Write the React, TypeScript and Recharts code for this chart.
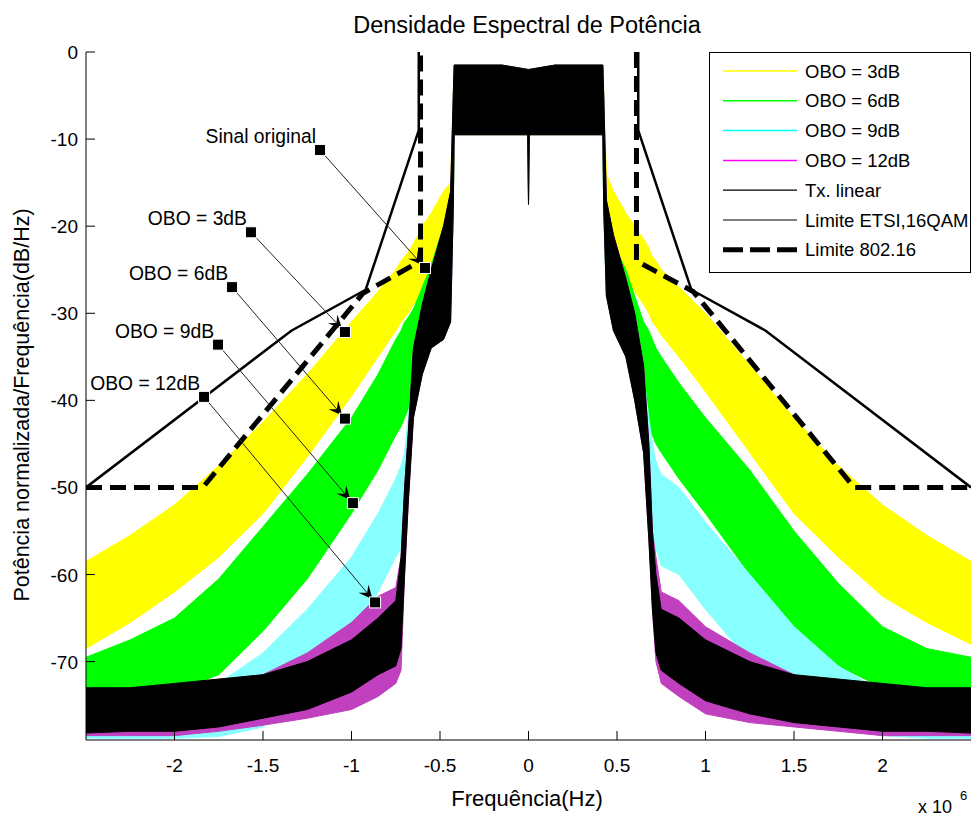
import React from 'react';
import { ComposedChart, Area, Line, XAxis, YAxis, ReferenceLine, Legend, Label } from 'recharts';

// ---------- data (frequency in MHz, PSD in dB) ----------
const FREQ_MHZ = [
  -2.5, -2.25, -2.0, -1.75, -1.5, -1.25, -1.0, -0.85, -0.75, -0.72, -0.7, -0.68, -0.65, -0.6, -0.55, -0.48, -0.44, -0.425,
  -0.42, -0.3, -0.15, -0.005, 0, 0.005, 0.15, 0.3, 0.42,
  0.425, 0.44, 0.48, 0.55, 0.6, 0.65, 0.68, 0.7, 0.72, 0.75, 0.85, 1.0, 1.25, 1.5, 1.75, 2.0, 2.25, 2.5,
];

const INBAND_HI = [-1.5, -1.5, -1.5, -2, -2, -2, -1.5, -1.5, -1.5];
const INBAND_LO = [-9.5, -9.5, -9.5, -9.5, -17.5, -9.5, -9.5, -9.5, -9.5];

const OBO3_HI = [
  -58.5, -55.5, -52, -47.5, -42.5, -37, -31, -27.5, -25, -24, -23.5, -23, -22, -20, -18.5, -16, -15, -5,
  ...INBAND_HI,
  -5, -14, -16, -18.5, -20, -21.5, -22.5, -23.5, -24, -25, -27, -30, -36, -42, -47.5, -52, -55.5, -58.5,
];
const OBO3_LO = [
  -68.5, -65.5, -62, -58, -53, -46.5, -39.5, -35, -32, -31, -30.5, -30, -29, -27.5, -26, -24, -22, -18,
  ...INBAND_LO,
  -18, -22, -24, -26, -27.5, -29, -30, -31, -31.5, -32.5, -35, -39, -46, -53, -58, -62.5, -65.5, -68,
];
const OBO6_HI = [
  -69.5, -67.5, -65, -60.5, -54.5, -48.5, -42, -37, -33, -32, -31, -30.5, -29.5, -27, -24.5, -20, -18, -5,
  ...INBAND_HI,
  -5, -19, -22, -25, -28, -31, -32, -33, -34, -35, -38, -42, -48, -55, -61, -66, -68.5, -69.5,
];
const OBO6_LO = [
  -75, -74.5, -73.5, -71.5, -66.5, -60.5, -53, -48, -44, -43, -42, -41, -40, -37, -34, -31, -29, -18,
  ...INBAND_LO,
  -18, -28, -31, -34, -38, -41, -43, -44, -45, -46, -49, -53, -60, -66, -70.5, -73, -74.5, -75,
];
const OBO9_HI = [
  -75.5, -75, -74.5, -72.5, -69, -64, -58, -53, -49, -47.5, -46, -42, -36, -30, -26, -21, -17, -5,
  ...INBAND_HI,
  -5, -18, -22, -27, -31, -37, -42, -45, -47, -48.5, -50, -54, -60, -66, -70.5, -73.5, -75, -75.5,
];
const OBO9_LO = [
  -78.8, -78.8, -78.8, -78.6, -77.5, -73, -67, -62, -58, -57, -55, -51, -42, -37, -34, -33, -31, -18,
  ...INBAND_LO,
  -18, -28, -32, -35, -40, -46, -52, -55, -57, -59, -60, -64, -70, -74.5, -77, -78.5, -78.8, -78.8,
];
const OBO12_HI = [
  -73.5, -73, -73, -72.5, -71.5, -69, -65.5, -62.5, -61.5, -58, -50, -44, -34, -29, -25, -20, -16, -5,
  ...INBAND_HI,
  -5, -17, -21, -26, -30, -36, -45, -55, -58, -62, -63, -66, -69, -71.5, -72.5, -73, -73.5, -73.5,
];
const OBO12_LO = [
  -78.5, -78.5, -78.5, -78, -77.3, -76.5, -75.5, -74, -72.5, -71, -60, -52, -42, -37, -34, -33, -31, -18,
  ...INBAND_LO,
  -18, -28, -32, -35, -40, -46, -56, -64, -70, -72.5, -74, -76, -77, -77.5, -78, -78.5, -78.5, -78.5,
];
const TX_HI = [
  -73, -73, -72.5, -72, -71.5, -70, -67.5, -65, -63, -58, -50, -44, -34, -29, -25, -20, -16, -5,
  ...INBAND_HI,
  -5, -17, -21, -26, -30, -36, -45, -55, -60, -64, -65, -67.5, -70, -71.5, -72, -72.5, -73, -73,
];
const TX_LO = [
  -78.2, -78, -78, -77.5, -76.5, -75.5, -73.5, -71.5, -70.5, -68.5, -60, -52, -42, -37, -34, -33, -31, -18,
  ...INBAND_LO,
  -18, -28, -32, -35, -40, -46, -56, -64, -69, -71, -72.5, -74.5, -76, -77, -77.5, -78, -78, -78.2,
];

const ETSI_LEFT_F = [-2.5, -1.34, -0.92, -0.62, -0.62];
const ETSI_LEFT_DB = [-50, -32, -27.3, -9, 0];
const ETSI_RIGHT_F = [0.62, 0.62, 0.92, 1.34, 2.5];
const ETSI_RIGHT_DB = [0, -9, -27.3, -32, -50];
const MASK_LEFT_F = [-2.5, -1.84, -0.935, -0.61, -0.61];
const MASK_LEFT_DB = [-50, -50, -27.7, -24, 0];
const MASK_RIGHT_F = [0.61, 0.61, 0.93, 1.84, 2.5];
const MASK_RIGHT_DB = [0, -24, -27.5, -50, -50];

const X_TICKS = [-2, -1.5, -1, -0.5, 0, 0.5, 1, 1.5, 2];
const Y_TICKS = [-70, -60, -50, -40, -30, -20, -10, 0];

const ANNOTATIONS = [
  { label: 'Sinal original', fromF: -1.178, fromDb: -11.25, toF: -0.585, toDb: -24.8 },
  { label: 'OBO = 3dB', fromF: -1.568, fromDb: -20.7, toF: -1.037, toDb: -32.15 },
  { label: 'OBO = 6dB', fromF: -1.675, fromDb: -27.0, toF: -1.037, toDb: -42.1 },
  { label: 'OBO = 9dB', fromF: -1.754, fromDb: -33.6, toF: -0.992, toDb: -51.8 },
  { label: 'OBO = 12dB', fromF: -1.833, fromDb: -39.6, toF: -0.867, toDb: -63.2 },
];

const LEGEND_ITEMS = [
  { label: 'OBO = 3dB', color: '#FFFF00', width: 1.5, dash: undefined as string | undefined },
  { label: 'OBO = 6dB', color: '#00FF00', width: 1.5, dash: undefined },
  { label: 'OBO = 9dB', color: '#00FFFF', width: 1.5, dash: undefined },
  { label: 'OBO = 12dB', color: '#FF00FF', width: 1.5, dash: undefined },
  { label: 'Tx. linear', color: '#000000', width: 1.2, dash: undefined },
  { label: 'Limite ETSI,16QAM', color: '#000000', width: 1.2, dash: undefined },
  { label: 'Limite 802.16', color: '#000000', width: 5, dash: '20 7' },
];

const TITLE = 'Densidade Espectral de Potência';
const X_LABEL = 'Frequência(Hz)';
const Y_LABEL = 'Potência normalizada/Frequência(dB/Hz)';

// ---------- derived tables ----------
const table = FREQ_MHZ.map((f, i) => ({
  f: f * 1e6,
  obo3: [OBO3_LO[i], OBO3_HI[i]],
  obo6: [OBO6_LO[i], OBO6_HI[i]],
  obo9: [OBO9_LO[i], OBO9_HI[i]],
  obo12: [OBO12_LO[i], OBO12_HI[i]],
  tx: [TX_LO[i], TX_HI[i]],
}));
const mk = (fs: number[], ds: number[]) => fs.map((f, i) => ({ f: f * 1e6, db: ds[i] }));
const etsiLeft = mk(ETSI_LEFT_F, ETSI_LEFT_DB);
const etsiRight = mk(ETSI_RIGHT_F, ETSI_RIGHT_DB);
const maskLeft = mk(MASK_LEFT_F, MASK_LEFT_DB);
const maskRight = mk(MASK_RIGHT_F, MASK_RIGHT_DB);

// ---------- layout ----------
const W = 975;
const H = 820;
const PLOT_LEFT = 86;
const PLOT_TOP = 52;
const PLOT_RIGHT = 971;
const PLOT_BOTTOM = 740;
const FONT = "'Liberation Sans', Arial, Helvetica, sans-serif";
const TICK_LEN = 9;
const TICK_FS = 19;

const XTick = (p: any) => (
  <g>
    <line x1={p.x} x2={p.x} y1={PLOT_BOTTOM} y2={PLOT_BOTTOM - TICK_LEN} stroke="#000" />
    <text x={p.x} y={PLOT_BOTTOM + 32} textAnchor="middle" fontSize={TICK_FS} fontFamily={FONT} fill="#000">
      {String(p.payload.value / 1e6)}
    </text>
  </g>
);
const TopTick = (p: any) => (
  <line x1={p.x} x2={p.x} y1={PLOT_TOP} y2={PLOT_TOP + TICK_LEN} stroke="#000" />
);
const YTick = (p: any) => (
  <g>
    <line x1={PLOT_LEFT} x2={PLOT_LEFT + TICK_LEN} y1={p.y} y2={p.y} stroke="#000" />
    <text x={78} y={p.y + 7} textAnchor="end" fontSize={TICK_FS} fontFamily={FONT} fill="#000">
      {String(p.payload.value)}
    </text>
  </g>
);
const RightTick = (p: any) => (
  <line x1={PLOT_RIGHT} x2={PLOT_RIGHT - TICK_LEN} y1={p.y} y2={p.y} stroke="#000" />
);

const FrameTexts = () => (
  <g fontFamily={FONT} fill="#000">
    <text x={527} y={33} textAnchor="middle" fontSize={23.5}>{TITLE}</text>
    <text x={527} y={806} textAnchor="middle" fontSize={22}>{X_LABEL}</text>
    <text x={918} y={813} fontSize={18}>x 10</text>
    <text x={960} y={800} fontSize={13}>6</text>
  </g>
);
const YLabel = () => (
  <text
    x={22}
    y={405}
    transform="rotate(-90 22 405)"
    textAnchor="middle"
    dominantBaseline="central"
    fontSize={21.5}
    fontFamily={FONT}
    fill="#000"
  >
    {Y_LABEL}
  </text>
);

const makeArrow = (label: string) => (p: any) => {
  const { x1, y1, x2, y2 } = p;
  const dx = x2 - x1;
  const dy = y2 - y1;
  const len = Math.hypot(dx, dy) || 1;
  const ux = dx / len;
  const uy = dy / len;
  const nx = -uy;
  const ny = ux;
  const tx = x2 - ux * 4;
  const ty = y2 - uy * 4;
  const L = 14;
  const HW = 6.5;
  const bx = tx - ux * L;
  const by = ty - uy * L;
  const mx = tx - ux * L * 0.6;
  const my = ty - uy * L * 0.6;
  const pts = `${tx},${ty} ${bx + nx * HW},${by + ny * HW} ${mx},${my} ${bx - nx * HW},${by - ny * HW}`;
  return (
    <g>
      <line x1={x1} y1={y1} x2={mx} y2={my} stroke="#222" strokeWidth={1} />
      <polygon points={pts} fill="#000" />
      <text x={x1 - 4} y={y1 - 7} textAnchor="end" fontSize={19.3} fontFamily={FONT} fill="#000">
        {label}
      </text>
      <rect x={x1 - 5.5} y={y1 - 5.5} width={11} height={11} fill="#000" stroke="#fff" strokeWidth={1} />
      <rect x={x2 - 5.5} y={y2 - 5.5} width={11} height={11} fill="#000" stroke="#fff" strokeWidth={1} />
    </g>
  );
};

const LegendBox = () => (
  <div
    style={{
      width: 262,
      height: 221,
      border: '1px solid #000',
      background: '#fff',
      boxSizing: 'border-box',
    }}
  >
    <svg width={260} height={219} style={{ display: 'block' }}>
      {LEGEND_ITEMS.map((it, i) => {
        const y = 18 + i * 29.8;
        return (
          <g key={it.label}>
            <line x1={13} x2={87} y1={y} y2={y} stroke={it.color} strokeWidth={it.width} strokeDasharray={it.dash} />
            <text x={95} y={y + 6.5} fontSize={18.5} fontFamily={FONT} fill="#000">
              {it.label}
            </text>
          </g>
        );
      })}
    </svg>
  </div>
);

const bandProps = {
  type: 'linear' as const,
  fillOpacity: 1,
  strokeWidth: 1,
  isAnimationActive: false,
  dot: false,
  activeDot: false,
  legendType: 'none' as const,
};

export default function App() {
  return (
    <div style={{ position: 'absolute', left: 0, top: 0, width: W, height: H, background: '#fff' }}>
      <ComposedChart
        width={W}
        height={H}
        data={table}
        margin={{ top: PLOT_TOP, right: W - PLOT_RIGHT, bottom: 0, left: 0 }}
      >
        <XAxis
          type="number"
          dataKey="f"
          domain={[-2.5e6, 2.5e6]}
          ticks={X_TICKS.map((v) => v * 1e6)}
          interval={0}
          tick={XTick}
          tickLine={false}
          axisLine={{ stroke: '#000' }}
          height={H - PLOT_BOTTOM}
          allowDataOverflow
        >
          <Label content={FrameTexts} />
        </XAxis>
        <XAxis
          xAxisId="top"
          orientation="top"
          type="number"
          dataKey="f"
          domain={[-2.5e6, 2.5e6]}
          ticks={X_TICKS.map((v) => v * 1e6)}
          interval={0}
          tick={TopTick}
          tickLine={false}
          axisLine={{ stroke: '#000' }}
          height={0}
          allowDataOverflow
        />
        <YAxis
          type="number"
          domain={[-79, 0]}
          ticks={Y_TICKS}
          interval={0}
          tick={YTick}
          tickLine={false}
          axisLine={{ stroke: '#000' }}
          width={PLOT_LEFT}
          allowDataOverflow
        >
          <Label content={YLabel} />
        </YAxis>
        <YAxis
          yAxisId="right"
          orientation="right"
          type="number"
          domain={[-79, 0]}
          ticks={Y_TICKS}
          interval={0}
          tick={RightTick}
          tickLine={false}
          axisLine={{ stroke: '#000' }}
          width={0}
          allowDataOverflow
        />

        <Area dataKey="obo3" fill="#FFFF00" stroke="#FFFF00" {...bandProps} />
        <Area dataKey="obo6" fill="#00FF00" stroke="#00FF00" {...bandProps} />
        <Area dataKey="obo9" fill="#88FFFF" stroke="#88FFFF" {...bandProps} />
        <Area dataKey="obo12" fill="#C040C0" stroke="#C040C0" {...bandProps} />
        <Area dataKey="tx" fill="#000000" stroke="#000000" {...bandProps} />

        <Line data={etsiLeft} dataKey="db" type="linear" stroke="#000" strokeWidth={2.5} dot={false} activeDot={false} isAnimationActive={false} legendType="none" />
        <Line data={etsiRight} dataKey="db" type="linear" stroke="#000" strokeWidth={2.5} dot={false} activeDot={false} isAnimationActive={false} legendType="none" />
        <Line data={maskLeft} dataKey="db" type="linear" stroke="#000" strokeWidth={5} strokeDasharray="16 8" dot={false} activeDot={false} isAnimationActive={false} legendType="none" />
        <Line data={maskRight} dataKey="db" type="linear" stroke="#000" strokeWidth={5} strokeDasharray="16 8" dot={false} activeDot={false} isAnimationActive={false} legendType="none" />

        {ANNOTATIONS.map((a) => (
          <ReferenceLine
            key={a.label}
            segment={[
              { x: a.fromF * 1e6, y: a.fromDb },
              { x: a.toF * 1e6, y: a.toDb },
            ]}
            stroke="#000"
            shape={makeArrow(a.label)}
          />
        ))}

        <Legend
          layout="horizontal"
          verticalAlign="middle"
          align="center"
          width={262}
          height={221}
          wrapperStyle={{ position: 'absolute', left: 709, top: PLOT_TOP, width: 262, height: 221 }}
          content={() => <LegendBox />}
        />
      </ComposedChart>
    </div>
  );
}
